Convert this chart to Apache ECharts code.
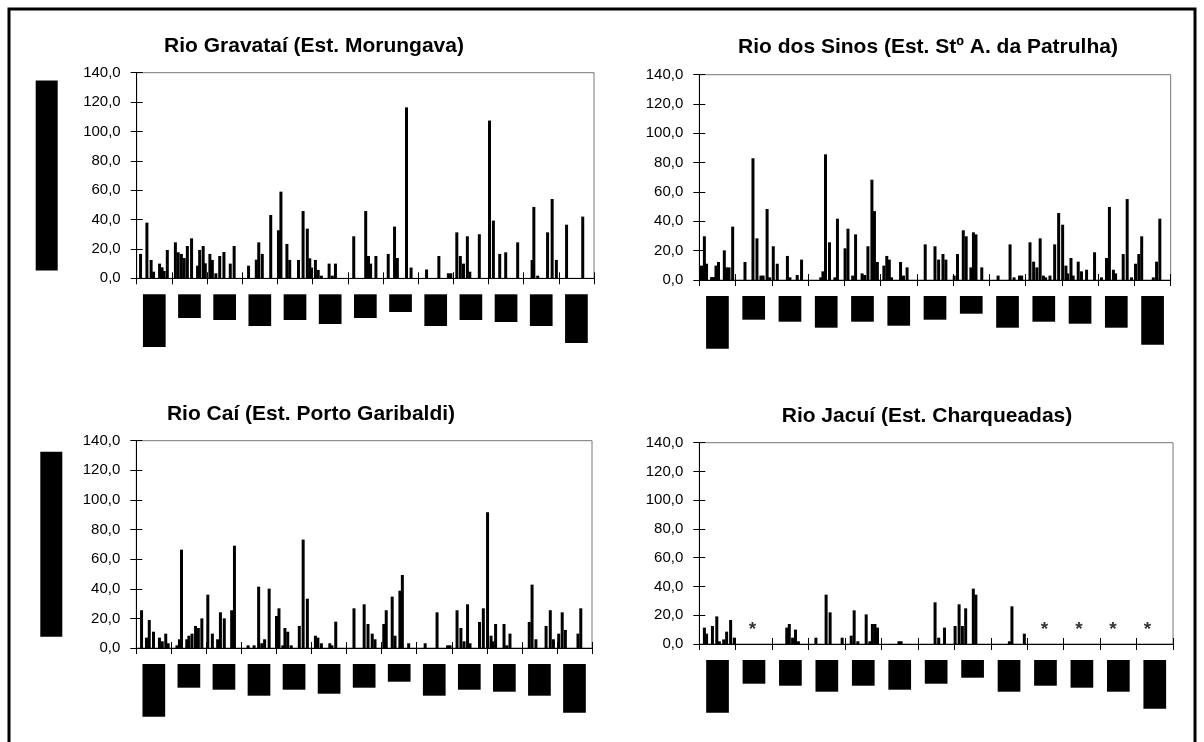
<!DOCTYPE html>
<html>
<head>
<meta charset="utf-8">
<script src="https://cdn.jsdelivr.net/npm/echarts@6/dist/echarts.min.js"></script>
<style>
html,body{margin:0;padding:0;background:#fff;}
#chart{width:1204px;height:742px;}
</style>
</head>
<body>
<div id="chart"></div>
<script>
// ---- data ----
const months = ['Jan','Fev','Mar','Abr','Mai','Jun','Jul','Ago','Set','Out','Nov','Dez','Jan'];
const yTicks = [0,20,40,60,80,100,120,140];
const titles = ['Rio Gravataí (Est. Morungava)','Rio dos Sinos (Est. Stº A. da Patrulha)','Rio Caí (Est. Porto Garibaldi)','Rio Jacuí (Est. Charqueadas)'];
const yName = 'Precipitação (mm)';

// [position in months from start, rainfall]
const gravatai = [[0.11,16.6],[0.29,37.9],[0.41,12.5],[0.48,4.5],[0.65,10],[0.72,7.5],[0.78,5],[0.87,19.3],
[1.10,24.5],[1.18,17.7],[1.27,16.6],[1.35,13.8],[1.44,22],[1.56,27.2],[1.73,8.6],[1.79,19.3],[1.89,22],[1.95,10.2],
[2.08,16.6],[2.15,12.5],[2.25,3.4],[2.36,15.2],[2.48,17.9],[2.66,10],[2.77,22],
[3.18,8.6],[3.40,12.7],[3.47,24.5],[3.57,16.6],[3.81,43.1],
[4.03,32.7],[4.10,59],[4.27,23.4],[4.35,12.5],[4.60,12.5],[4.73,45.8],[4.85,33.8],[4.92,13.6],[4.97,7.3],
[5.08,12.5],[5.16,5.7],[5.25,1.8],[5.47,10],[5.56,1.8],[5.65,10],
[6.17,28.6],[6.51,45.8],[6.59,15.2],[6.65,10],[6.80,15.2],
[7.15,16.6],[7.33,35.2],[7.41,13.8],[7.67,116.4],[7.80,7.3],
[8.24,6],[8.59,15.2],[8.86,3.4],[8.93,3.4],
[9.10,31.3],[9.20,15.2],[9.29,10],[9.40,28.6],[9.47,4.5],[9.74,30],
[10.03,107.4],[10.14,39.3],[10.32,16.6],[10.49,17.7],[10.83,24.5],
[11.24,12.5],[11.29,48.6],[11.40,1.8],[11.68,31.3],[11.81,54],[11.93,12.5],
[12.22,36.5],[12.68,42]];

const sinos = [[0.06,9.8],[0.14,29.8],[0.20,11.1],[0.34,2],[0.40,2],[0.46,9.8],[0.53,12.3],[0.69,20.2],[0.75,8.6],[0.82,8.6],[0.92,36.4],
[1.26,12.3],[1.48,83],[1.59,28.4],[1.70,3],[1.76,3],[1.87,48.4],[1.94,1.8],
[2.04,23],[2.15,11.1],[2.43,16.4],[2.50,1.8],[2.70,3.4],[2.82,13.9],
[3.35,1.8],[3.41,5.9],[3.48,85.7],[3.59,25.7],[3.74,1.8],[3.81,41.8],
[4.02,21.6],[4.10,35],[4.23,3],[4.31,31.1],[4.49,4.5],[4.56,3.4],[4.65,23],[4.76,68.4],[4.83,47],[4.91,12.3],
[5.09,9.8],[5.17,16.4],[5.24,13.9],[5.30,1.8],[5.55,12.3],[5.63,3],[5.73,8.6],
[6.23,24.3],[6.50,23],[6.60,13.9],[6.72,17.7],[6.80,13.9],
[7.03,3],[7.12,17.7],[7.28,33.9],[7.36,29.8],[7.49,8.6],[7.56,32.5],[7.63,31.1],[7.79,8.6],
[8.24,3],[8.57,24.3],[8.68,1.8],[8.83,3],[8.89,3],
[9.12,25.7],[9.22,12.5],[9.31,8.6],[9.40,28.4],[9.49,3],[9.55,1.8],[9.67,3],[9.80,24.3],[9.91,45.7],
[10.02,37.7],[10.11,9.8],[10.16,4.5],[10.25,15],[10.31,3],[10.45,12.5],[10.54,5.9],[10.68,7],[10.90,18.9],
[11.09,1.8],[11.23,15],[11.31,49.8],[11.42,7],[11.48,4.5],[11.69,17.7],[11.80,55.2],[11.92,1.8],
[12.03,11.1],[12.12,17.7],[12.20,29.8],[12.52,1.8],[12.61,12.5],[12.70,41.8]];

const cai = [[0.15,25.5],[0.29,7],[0.37,18.9],[0.49,11],[0.66,7],[0.74,4.5],[0.84,9.7],[0.91,3.2],
[1.16,1.8],[1.23,5.9],[1.29,66.4],[1.44,5.9],[1.50,8.3],[1.59,9.7],[1.69,14.9],[1.77,13.5],[1.87,20],
[2.04,36],[2.17,9.7],[2.32,5.9],[2.40,24.1],[2.51,20],[2.72,25.5],[2.80,69.1],
[3.19,1.8],[3.36,1.8],[3.49,41.4],[3.58,3.2],[3.66,5.9],[3.79,40.1],
[4.00,21.6],[4.07,26.8],[4.18,1.8],[4.24,13.5],[4.32,11],[4.42,1.8],[4.65,14.9],[4.76,73.2],[4.88,33.3],
[5.11,8.3],[5.18,7],[5.28,3.2],[5.52,3.2],[5.58,1.8],[5.69,17.8],
[6.21,26.8],[6.50,29.5],[6.61,16.2],[6.73,9.7],[6.81,5.9],
[7.06,16.2],[7.13,25.5],[7.30,34.7],[7.38,8.3],[7.52,38.7],[7.59,49.3],[7.77,3.2],
[8.24,3.2],[8.58,24.1],[8.88,1.8],[8.95,1.8],
[9.15,25.5],[9.26,13.5],[9.35,4.5],[9.45,29.5],[9.52,3.2],[9.79,17.6],[9.90,26.8],
[10.02,91.7],[10.12,8.3],[10.17,4.5],[10.25,16.2],[10.49,16.2],[10.57,1.8],[10.66,9.7],
[11.21,17.6],[11.29,42.8],[11.40,5.9],[11.69,14.9],[11.81,25.5],[11.90,5.9],
[12.05,9.7],[12.15,24.1],[12.24,12.2],[12.60,9.7],[12.68,26.8]];

const jacui = [[0.14,11.4],[0.20,7.2],[0.36,12.5],[0.48,19.2],[0.55,1.9],[0.67,3.2],[0.75,8.6],[0.86,16.7],[0.96,4.4],
[2.40,11.4],[2.47,13.9],[2.56,4.4],[2.64,10],[2.72,1.9],
[3.20,4.4],[3.48,34.3],[3.59,22],[3.92,4.4],
[4.17,5.8],[4.25,23.4],[4.35,1.9],[4.58,20.6],[4.68,1.9],[4.75,13.9],[4.82,13.9],[4.89,11.4],
[5.48,1.9],[5.54,1.9],
[6.47,29],[6.57,4.4],[6.73,11.4],
[7.02,12.5],[7.13,27.6],[7.22,12.5],[7.31,24.8],[7.52,38.5],[7.59,34.3],
[8.51,1.9],[8.58,26.2],[8.92,7.2]];
const jacuiNoData = [1.46, 9.47, 10.42, 11.35, 12.30];
const noDataMark = '*';

// ---- styling / layout ----
const FONT = 'Liberation Sans, Arial, sans-serif';
const grids = [
  {left:136.7, top:72.7, width:457.3, height:205.6},
  {left:699.3, top:74.7, width:471.4, height:205.3},
  {left:136.3, top:440.7, width:455.7, height:207.3},
  {left:699.3, top:442.7, width:473.7, height:201.3}
];
const titlePos = [[314,46],[928,47],[311,414],[927,416]];
const boxH = [52.7,23.7,25.7,31.7,25.7,29.7,23.7,17.7,31.7,25.7,27.7,31.7,48.7];
const yNameCfg = [{gap:79,len:190},null,{gap:74,len:185},null];
const seriesData = [gravatai, sinos, cai, jacui];

const rich = {};
boxH.forEach((h,i)=>{ rich['b'+i] = {width:22.7, height:h, lineHeight:h, backgroundColor:'#000', color:'#000', fontSize:10, align:'center', verticalAlign:'top'}; });

const option = {
  backgroundColor:'#fff',
  animation:false,
  grid: grids.map(g=>Object.assign({show:true, borderColor:'#777', borderWidth:1, backgroundColor:'transparent'}, g)),
  xAxis: [], yAxis: [], series: [],
  graphic: []
};

grids.forEach((g,k)=>{
  option.xAxis.push({
    type:'category', gridIndex:k, data:months, boundaryGap:true,
    axisLine:{show:true, lineStyle:{color:'#000', width:1}},
    axisTick:{show:true, length:6, lineStyle:{color:'#000'}},
    axisLabel:{interval:0, margin:16, fontFamily:FONT, rich:rich,
      formatter:(v,i)=>'{b'+i+'|'+v+'}'},
    splitLine:{show:false}
  });
  option.xAxis.push({
    type:'value', gridIndex:k, min:0, max:13, interval:1, position:'bottom',
    axisLine:{show:false}, axisLabel:{show:false}, splitLine:{show:false},
    axisTick:{show:true, inside:true, length:6, lineStyle:{color:'#000'}}
  });
  const yn = yNameCfg[k];
  option.yAxis.push({
    type:'value', gridIndex:k, min:0, max:140, interval:20, position:'left',
    axisLine:{show:true, lineStyle:{color:'#000'}},
    axisTick:{show:true, length:6, lineStyle:{color:'#000'}},
    axisLabel:{color:'#000', fontFamily:FONT, fontSize:15, margin:16,
      formatter:v=>v.toFixed(1).replace('.',',')},
    splitLine:{show:false},
    name: yn ? '{n|' + yName + '}' : '',
    nameLocation:'middle', nameRotate:90, nameGap: yn ? yn.gap : 0,
    nameTextStyle: yn ? {fontFamily:FONT, fontSize:12, verticalAlign:'bottom',
      rich:{n:{color:'#000', backgroundColor:'#000', fontSize:12, width:yn.len, height:22, lineHeight:22, align:'center'}}} : {}
  });
  option.yAxis.push({
    type:'value', gridIndex:k, min:0, max:140, interval:20, position:'left',
    axisLine:{show:false}, axisLabel:{show:false}, splitLine:{show:false},
    axisTick:{show:true, inside:true, length:6, lineStyle:{color:'#000'}}
  });
  option.series.push({
    type:'bar', name:titles[k], xAxisIndex:2*k+1, yAxisIndex:2*k,
    data:seriesData[k], barWidth:3, itemStyle:{color:'#000'}, silent:true
  });
  option.graphic.push({
    type:'text', x:titlePos[k][0], y:titlePos[k][1],
    style:{text:titles[k], fill:'#000', font:'bold 21px '+FONT, textAlign:'center', textVerticalAlign:'middle'}
  });
});

option.series.push({
  type:'scatter', xAxisIndex:7, yAxisIndex:6,
  data: jacuiNoData.map(p=>[p,10]),
  symbol:'circle', symbolSize:1, itemStyle:{color:'rgba(0,0,0,0)'},
  label:{show:true, position:'inside', formatter:noDataMark, color:'#000', fontSize:19, fontWeight:'bold', fontFamily:FONT}
});

option.graphic.push({
  type:'rect', shape:{x:9, y:9, width:1186, height:800},
  style:{fill:'none', stroke:'#000', lineWidth:3}, z:100
});

const chart = echarts.init(document.getElementById('chart'), null, {renderer:'canvas'});
chart.setOption(option);
</script>
</body>
</html>
